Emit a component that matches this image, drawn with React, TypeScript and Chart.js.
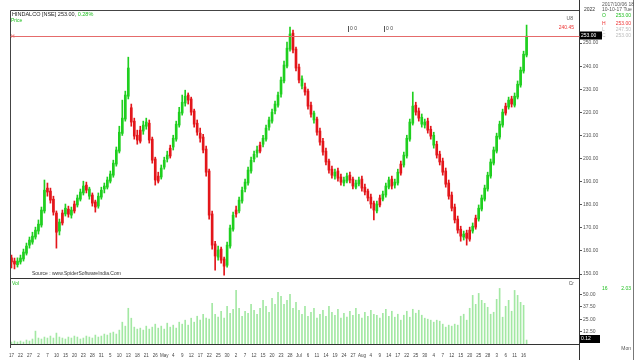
import React, { useEffect, useRef } from "react";
import { Chart, registerables } from "chart.js";
Chart.register(...registerables);

// Trading days (daily candles), month name marks the first session of a month
const dates: string[] = (
  "17 20 21 22 23 24 27 28 " +
  "Mar 2 3 6 7 8 9 10 13 14 15 16 17 20 21 22 23 24 27 28 29 30 31 " +
  "Apr 4 5 6 7 10 11 12 13 14 17 18 19 20 21 24 25 26 27 28 " +
  "May 2 3 4 5 8 9 10 11 12 15 16 17 18 19 22 23 24 25 26 29 30 31 " +
  "Jun 2 5 6 7 8 9 12 13 14 15 16 19 20 21 22 23 26 27 28 29 30 " +
  "Jul 4 5 6 7 10 11 12 13 14 17 18 19 20 21 24 25 26 27 28 31 " +
  "Aug 2 3 4 7 8 9 10 11 14 15 16 17 18 21 22 23 24 25 28 29 30 31 " +
  "Sep 4 5 6 7 8 11 12 13 14 15 18 19 20 21 22 25 26 27 28 29 " +
  "Oct 3 4 5 6 9 10 11 12 13 16 17"
).split(" ");

// [open, high, low, close]
const ohlc: number[][] = [
  [157.0,158.2,152.6,155.2],[155.6,156.9,152.2,154.3],[154.0,157.0,153.0,155.6],[155.2,158.2,154.3,156.9],[156.5,160.8,155.6,159.5],
  [159.0,163.4,158.2,162.1],[162.5,166.0,161.2,164.7],[163.8,168.1,162.9,166.4],[166.0,170.3,165.1,169.0],[168.6,173.4,167.3,171.6],
  [171.2,179.0,170.3,177.7],[177.3,190.7,176.4,186.3],[187.2,189.4,183.7,185.5],[185.9,187.2,180.7,182.0],[182.4,183.7,175.5,176.8],
  [176.4,177.3,161.2,168.1],[168.6,173.8,166.9,172.5],[176.4,177.7,171.2,172.1],[176.0,180.3,175.1,178.5],[178.1,179.4,174.6,175.9],
  [175.5,179.0,174.2,177.7],[180.3,181.6,176.4,177.3],[179.9,184.2,179.0,182.9],[182.4,186.8,181.6,185.5],[185.1,190.2,184.2,188.1],
  [188.5,189.8,185.1,186.3],[183.7,187.6,182.4,186.8],[184.2,185.1,179.4,180.7],[181.2,182.0,176.8,179.0],[179.4,185.1,178.5,183.7],
  [183.3,187.6,182.4,186.3],[186.8,189.4,185.1,188.1],[187.6,192.0,186.8,190.7],[190.2,194.6,189.4,193.3],[192.8,199.3,191.9,198.0],
  [197.6,205.0,196.7,203.7],[203.2,214.0,202.4,211.4],[210.9,225.3,210.0,217.5],[217.1,229.2,216.2,227.5],[227.0,243.9,225.8,239.2],
  [222.0,223.6,214.0,215.8],[216.2,217.5,208.4,209.7],[210.1,212.3,206.2,208.0],[212.3,214.0,206.7,207.5],[211.9,216.2,210.5,214.5],
  [214.0,217.5,212.7,215.8],[215.3,216.7,206.7,208.0],[208.4,209.3,198.0,199.3],[199.8,200.6,188.5,190.7],[192.4,194.1,189.4,190.2],
  [192.0,197.2,191.1,195.9],[196.3,200.6,195.4,199.3],[199.8,203.2,198.5,201.5],[204.5,205.8,200.2,201.1],[205.0,210.1,203.7,208.8],
  [208.4,216.2,207.5,214.9],[214.5,222.2,213.6,220.1],[219.7,227.5,218.8,224.4],[224.0,229.6,222.7,227.0],[227.5,228.4,223.6,225.3],
  [225.8,226.6,218.8,220.1],[220.6,221.4,213.6,214.9],[215.3,216.7,210.1,211.4],[211.0,213.2,207.1,208.8],[209.3,210.5,202.4,203.7],
  [204.1,205.4,192.4,194.1],[194.6,195.4,173.8,175.5],[176.0,177.3,160.8,162.5],[163.0,164.2,151.7,157.8],[157.3,162.1,156.0,160.4],
  [160.8,161.7,154.7,156.0],[156.5,157.3,149.5,153.4],[153.8,163.8,153.0,162.5],[162.1,171.2,161.2,169.9],[169.4,176.8,168.6,175.5],
  [177.7,179.4,174.6,176.0],[177.3,183.3,176.4,182.0],[181.6,187.6,180.7,186.3],[186.8,191.1,185.5,189.8],[189.4,196.3,188.5,195.0],
  [194.6,200.6,193.7,199.3],[199.8,203.2,198.5,201.9],[202.4,205.4,200.6,203.7],[205.8,207.1,202.4,203.2],[206.2,210.1,205.0,208.8],
  [208.4,214.5,207.5,213.2],[213.6,218.0,212.3,216.7],[216.2,221.4,215.3,220.1],[220.6,224.9,219.3,223.6],[223.1,228.8,222.3,227.5],
  [227.9,235.3,226.6,234.0],[233.6,242.2,232.7,240.5],[240.0,250.4,239.2,247.8],[247.4,256.9,246.5,253.9],[254.3,255.6,245.7,247.0],
  [247.4,248.3,237.9,239.2],[239.6,240.9,232.7,234.0],[231.4,235.8,230.1,234.5],[231.0,232.7,227.5,228.8],[229.2,230.1,221.4,222.7],
  [223.1,224.4,217.9,219.2],[216.7,220.6,215.3,219.7],[217.1,218.0,210.1,211.4],[211.9,213.2,205.8,207.1],[207.5,208.8,201.5,202.8],
  [203.2,204.5,197.2,198.5],[198.9,199.8,193.7,195.0],[195.4,196.7,191.5,192.8],[192.4,195.4,191.1,194.1],[194.6,195.9,190.2,191.5],
  [192.0,193.3,188.5,189.8],[189.4,192.0,188.1,190.7],[190.2,193.7,189.4,192.4],[192.8,194.1,189.4,190.7],[191.1,192.0,186.8,188.1],
  [187.6,190.7,186.8,189.4],[189.0,192.0,188.1,190.7],[191.1,192.4,185.9,187.2],[187.6,188.9,184.2,185.5],[185.9,186.8,181.6,182.9],
  [183.3,184.6,178.5,180.3],[180.7,181.6,173.4,177.7],[177.3,181.6,176.4,180.3],[182.9,184.2,179.0,179.9],[182.4,185.9,181.6,184.6],
  [184.2,189.4,183.3,188.1],[187.6,192.0,186.8,190.7],[191.1,192.4,186.8,188.1],[188.5,191.1,187.2,189.8],[189.4,195.4,188.5,194.1],
  [197.6,198.9,192.8,193.7],[197.2,202.8,196.3,201.5],[201.1,210.1,200.2,208.8],[208.4,217.1,207.5,215.8],[215.3,228.8,214.5,222.7],
  [223.1,224.4,218.8,220.1],[220.6,221.9,216.2,217.5],[214.9,219.3,213.6,217.9],[214.5,217.1,213.2,215.8],[216.2,217.5,211.0,212.3],
  [212.7,214.0,208.4,209.7],[205.8,211.4,204.5,210.1],[206.2,207.5,200.2,201.5],[201.9,203.2,197.2,198.5],[198.9,200.2,192.8,194.1],
  [194.6,195.9,187.6,188.9],[189.4,190.7,182.4,183.7],[184.2,185.5,177.3,178.5],[179.0,180.3,172.1,173.4],[173.8,175.1,167.7,169.0],
  [169.4,170.7,164.2,166.4],[166.0,168.6,164.7,167.3],[167.7,169.0,162.5,165.5],[169.0,170.3,164.2,165.1],[168.6,172.1,167.7,170.7],
  [174.2,175.5,169.4,170.3],[173.8,179.9,172.9,178.5],[178.1,184.2,177.3,182.9],[182.4,188.5,181.6,187.2],[186.8,194.1,185.9,192.8],
  [192.4,199.8,191.5,198.5],[198.0,205.0,197.2,203.7],[203.2,211.0,202.4,209.7],[209.3,216.2,208.4,214.9],[214.5,221.4,213.6,220.1],
  [222.7,224.0,218.8,219.7],[222.3,226.6,221.4,225.3],[225.8,227.0,222.3,223.6],[223.1,228.4,222.3,227.0],[226.6,233.6,225.8,232.2],
  [231.8,239.6,230.9,238.3],[237.9,246.5,237.0,245.2],[244.8,257.8,244.0,253.0],
];

const volume: number[] = [
  2,3,2,3,2,4,3,5,13,6, 5,7,6,8,6,11,7,6,5,7, 6,8,7,5,6,8,7,6,9,7,
  8,10,9,11,12,10,14,22,18,36, 26,17,15,16,14,18,15,17,20,16, 18,15,21,17,19,16,22,20,24,19,
  26,22,28,24,30,26,25,41,30,27, 33,26,38,31,35,54,36,28,33,31, 40,34,30,36,44,38,32,46,40,52,
  48,40,44,50,36,42,34,30,38,28, 32,36,26,30,34,28,38,32,29,35, 26,31,27,33,29,36,30,26,32,28,
  34,30,29,26,31,35,28,33,27,30, 24,29,33,27,35,31,34,29,26,25, 24,22,24,23,20,17,19,18,20,19,
  28,30,24,36,49,40,51,44,41,37, 30,32,45,56,27,38,44,33,54,49, 42,39,4,
];

const priceTicks = [150,155,160,165,170,175,180,185,190,195,200,205,210,215,220,225,230,235,240,245,250];
const volumeTicks = [12.5, 25, 37.5, 50];
const EMPTY_SLOTS = 17;
const changePct = "0.28%";

const FONT = "'Liberation Sans', Arial, sans-serif";

export default function App() {
  const ref = useRef<HTMLCanvasElement | null>(null);
  useEffect(() => {
    if (!ref.current) return;
    const labels = [...dates, ...Array(EMPTY_SLOTS).fill("")];
    const green = "#1fcf1f";
    const red = "#e3161b";
    const colors = ohlc.map(([o, , , c]) => (c >= o ? green : red));
    const last = ohlc[ohlc.length - 1][3];

    const decor = {
      id: "decor",
      afterDraw(chart: any) {
        const ctx = chart.ctx as CanvasRenderingContext2D;
        const a = chart.chartArea;
        const yv = chart.scales.yv;
        const y = chart.scales.y;
        ctx.save();
        ctx.lineWidth = 1;
        const line = (x1: number, y1: number, x2: number, y2: number, c: string) => {
          ctx.strokeStyle = c;
          ctx.beginPath();
          ctx.moveTo(x1, y1);
          ctx.lineTo(x2, y2);
          ctx.stroke();
        };
        const L = Math.round(a.left) + 0.5;
        const R = Math.round(a.right) + 0.5;
        const T = Math.round(a.top) + 0.5;
        line(L, T, R, T, "#444");
        line(L, T, L, a.bottom + 4, "#444");
        line(R, 0, R, 360, "#333");
        line(633.5, 0, 633.5, 360, "#777");
        const sep = Math.round(Math.min(yv.top, y.bottom)) + 0.5;
        line(L, sep, R, sep, "#333");
        // last price line
        const py = Math.round(y.getPixelForValue(last)) + 0.5;
        line(L, py, R, py, "#e56b6b");

        const text = (s: string, x: number, yy: number, c: string, size = 5, align: CanvasTextAlign = "left") => {
          ctx.font = `${size}px ${FONT}`;
          ctx.fillStyle = c;
          ctx.textAlign = align;
          ctx.textBaseline = "middle";
          ctx.fillText(s, x, yy);
        };
        // title
        const title = `HINDALCO [NSE] ${last.toFixed(2)}, `;
        ctx.font = `5.5px ${FONT}`;
        const tw = ctx.measureText(title).width;
        text(title, 12, 14, "#222", 5.5);
        text(changePct, 12 + tw, 14, "#1fbf1f", 5.5);
        text("Price", 11, 21, "#1fbf1f", 5);
        text("H", 11, 37, "#e56b6b", 5);
        // event markers
        [350, 386].forEach((mx) => {
          line(mx - 1.5, 26, mx - 1.5, 32, "#555");
          text("0 0", mx, 29, "#444", 5);
        });
        text("U8", 573, 19, "#555", 5, "right");
        text("240.45", 574, 28, "#e33", 5, "right");
        // black price box
        ctx.fillStyle = "#000";
        ctx.fillRect(580, py - 5, 22, 8);
        text(last.toFixed(2), 581, py - 1, "#fff", 5);
        // right info panel
        text("2017/10/06 18", 602, 5, "#555", 5);
        text("2022", 584, 10, "#333", 5);
        text("10-10-17 Tue", 602, 10, "#555", 5);
        text("O", 602, 16, "#1fbf1f", 5);
        text(last.toFixed(2), 631, 16, "#1fbf1f", 5, "right");
        text("H", 602, 24, "#e33", 5);
        text(last.toFixed(2), 631, 24, "#e33", 5, "right");
        text("L", 602, 30, "#bbb", 5);
        text("247.50", 631, 30, "#bbb", 5, "right");
        text("C", 602, 36, "#bbb", 5);
        text(last.toFixed(2), 631, 36, "#bbb", 5, "right");
        // source
        text("Source : www.SpiderSoftwareIndia.Com", 32, sep - 5, "#333", 5);
        // volume panel labels
        text("Vol", 12, sep + 5, "#1fbf1f", 5);
        text("Cr", 574, sep + 5, "#555", 5, "right");
        text("16", 602, 289, "#1fbf1f", 5);
        text("2.03", 631, 289, "#1fbf1f", 5, "right");
        const vy = Math.round(yv.getPixelForValue(volume[volume.length - 1]));
        ctx.fillStyle = "#000";
        ctx.fillRect(580, vy - 5, 20, 8);
        text("0.12", 581, vy - 1, "#fff", 5);
        text("Mon", 631, 349, "#555", 5, "right");
        ctx.restore();
      },
    };

    const tickFont = { size: 5, family: FONT };
    const chart = new Chart(ref.current, {
      type: "bar",
      data: {
        labels,
        datasets: [
          {
            data: ohlc.map(([o, h, l, c]) => [l, h]) as any,
            backgroundColor: colors,
            barThickness: 1,
            grouped: false,
            yAxisID: "y",
          } as any,
          {
            data: ohlc.map(([o, h, l, c]) => [o, c]) as any,
            backgroundColor: colors,
            barThickness: 2,
            minBarLength: 1,
            grouped: false,
            yAxisID: "y",
          } as any,
          {
            data: volume,
            backgroundColor: "#a3e8a3",
            barThickness: 1,
            grouped: false,
            yAxisID: "yv",
          } as any,
        ],
      },
      options: {
        responsive: false,
        animation: false,
        devicePixelRatio: 1,
        layout: { padding: { left: 10, top: 10, right: 7, bottom: 2 } },
        plugins: { legend: { display: false }, tooltip: { enabled: false } },
        scales: {
          x: {
            type: "category",
            offset: true,
            grid: { display: false },
            border: { display: true, color: "#333" },
            ticks: {
              font: { size: 4.5, family: FONT },
              color: "#444",
              maxRotation: 0,
              minRotation: 0,
              autoSkip: true,
              autoSkipPadding: 0,
              padding: 1,
            },
            afterFit: (s: any) => {
              s.height = 14;
            },
          },
          y: {
            position: "right",
            stack: "panes",
            stackWeight: 268,
            min: 148.27,
            max: 264.33,
            afterBuildTicks: (s: any) => {
              s.ticks = priceTicks.map((v) => ({ value: v }));
            },
            ticks: {
              font: tickFont,
              color: "#555",
              padding: 1,
              callback: (v: any) => Number(v).toFixed(2),
            },
            grid: { drawOnChartArea: false, drawTicks: true, tickLength: 3, color: "#555" },
            border: { display: true, color: "#333" },
            afterFit: (s: any) => {
              s.width = 54;
            },
          },
          yv: {
            position: "right",
            stack: "panes",
            stackWeight: 66,
            min: 0,
            max: 66.5,
            afterBuildTicks: (s: any) => {
              s.ticks = volumeTicks.map((v) => ({ value: v }));
            },
            ticks: {
              font: tickFont,
              color: "#555",
              padding: 1,
              callback: (v: any) => Number(v).toFixed(2),
            },
            grid: { drawOnChartArea: false, drawTicks: true, tickLength: 3, color: "#555" },
            border: { display: true, color: "#333" },
            afterFit: (s: any) => {
              s.width = 54;
            },
          },
        } as any,
      },
      plugins: [decor],
    });
    return () => chart.destroy();
  }, []);

  return (
    <div style={{ position: "absolute", left: 0, top: 0, width: 640, height: 360, background: "#fff" }}>
      <canvas ref={ref} width={640} height={360} style={{ display: "block" }} />
    </div>
  );
}
